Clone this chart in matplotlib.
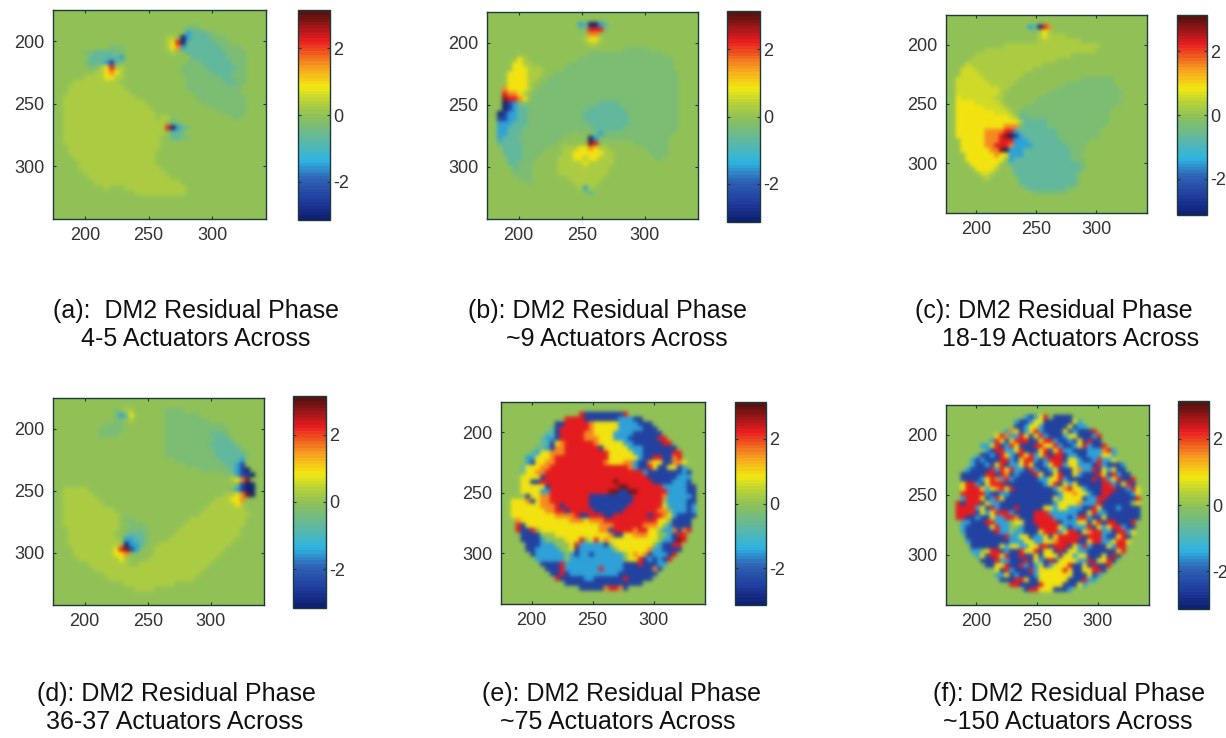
import numpy as np
import matplotlib
matplotlib.use("Agg")
import matplotlib.pyplot as plt
from matplotlib.colors import LinearSegmentedColormap

plt.rcParams["font.family"] = ["Liberation Sans", "DejaVu Sans"]

# =========================
# DATA: phase, one letter per 4x4 pixel cell
# =========================
LEVELS = {"n": -3.0, "b": -2.4, "c": -1.4, "t": -0.6, "p": -0.22, ".": 0.0, "g": 0.0,
          "q": 0.3, "u": 0.6, "y": 0.9, "o": 1.6, "r": 2.3, "d": 2.9}

PANEL_A = ["", "", "",
    "..........................ppp",
    "..........................ctttpp",
    "......................qq.ncttttppp",
    "......................qyrnttttttppp",
    "...........ppp........qyoctttttttpppp",
    "......ppttttpp.........q..ttttttttpppp",
    ".......ttttttc.............tttttttpppp",
    "......ptttcbtp............pppttttttppp",
    ".......ppqyrqq...........pppppttttttpp",
    "........qqyoyq...........ppppppttttppp",
    "......qqqqyyqq............pppppppttppp",
    "....qqqqqqqqq.............ppppppppttpp",
    "...qqqqqqqqqqq............ppppppppppp",
    "...qqqqqqqqqqqq............pppppppppp",
    "..qqqqqqqqqqqqqq............pppppppppp",
    "..qqqqqqqqqqqqqqqq...........ppppppppp",
    "..qqqqqqqqqqqqqqqqq............ppppppp",
    "..qqqqqqqqqqqqqqqqqq.............ppppp",
    "..qqqqqqqqqqqqqqqqqq.qqp...........pp",
    "..qqqqqqqqqqqqqqqqqqqq.pp",
    "..qqqqqqqqqqqqqqqqqqqqrnctp",
    "..qqqqqqqqqqqqqqqqqqqq.ttp",
    "..qqqqqqqqqqqqqqqqqqq..ttpp",
    "..qqqqqqqqqqqqqqqqqqq",
    "...qqqqqqqqqqqqqqqqqq",
    "...qqqqqqqqqqqqqqqqq",
    "....qqqqqqqqqqqqqqqq",
    ".....qqqqqqqqqqqqqqq",
    ".....qqqqqqqqqqqqqqqq",
    "......qqqqqqqqqqqqqqqq",
    ".......qqqqqqqqqqqqqqqq",
    "........qqqqqqqqqqqqqqqqq",
    "..........q...qqqqqqqqqqqq",
    "................qqqqqqqqqq",
]

PANEL_B = ["", "",
    "..................ctnnct",
    "..................pprrrp",
    "....................oo",
    "...................qyyq",
    "....................qq",
    "...........................ppppp",
    "....................ppppppppppppppp",
    "......yq..........ppppppppppppppppppp",
    ".....yyqq.......ppppppppppppppppppppp",
    ".....yyyqqq....pppppppppppppppppppppp",
    "....yyyyqqq..ppppppppppppppppppppppppp",
    "....yyyyqq..pppppppppppppppppppppppppp",
    "....yyyyq..ppppppppppppppppppppppppppp",
    "...oyyyyq.pppppppppppppppppppppppppppp",
    "...rooyq.ppppppppppppppppppppppppppppp",
    "...drroy.ppppppppppppppppppppppppppppp",
    "...nbcppppppppppppppppttttpppppppppppp",
    "...nbcttpppppppppppptttttttppppppppppp",
    "..nbccttppppppppppptttttttttpppppppppp",
    "..bbccttppppppppppptttttttttpppppppppp",
    "..ccctttppppppppppppttttttttpppppppppp",
    "..cctttppppppppppppppttttttppppppppppp",
    "..cctttpppppppppp.p.ppcpppppppppppppp",
    "..ctttppppppppp.....ncpppppppppppppp",
    "..tttttppppppp......dr.......ppppppp",
    "...ttttppppp...qqqyyoyqq.......ppppp",
    "...ttttpppp....qqyyyyyyqq.......pppp",
    "....tttppp....qqqyyqyyqqq........pp",
    "....ttppp.....qqqqqyqqqqq",
    ".....tppp.....qqqqqqqqqq",
    ".....pppp.....qqqqqqqqqq",
    "......ppp.......qqqqqqq",
    "........p........qqqqq",
    "..................qcq",
    "....................t",
]

PANEL_C = ["", "",
    ".................ctnro",
    "..................pqyq",
    "...................qyqqqq",
    "...................qqqqqqqqq",
    "............qqqqqqqqqqqqqqqqqqqq",
    "........qqqqqqqqqqqqqqqqqqqqqqq",
    "......qqqqqqqqqqqqqqqqqqqq",
    ".....qqqqqqqqqqqqqqqqqq",
    "....uqqqqqqqqqqqqqqq",
    "...uuuqqqqqqqqqqqq",
    "...uuuuqqqqqqqqq",
    "..uuuuuuqqqqqqq.............ppppppp",
    "..uuuuuuuqqqqq...........pppppppppp",
    "..uuuuuuuuuqq..........ppppppppppppp",
    "..uuuuuuuuuq.........pppppppppppppppp",
    "..yuuuuuuuqq.......ppppppppppppppppp",
    "..yyyyuuuuuq......ppppppppppppppppppp",
    "..yyyyyyuuuuq...ppppppppppppppppppp",
    "..yyyyyyyyuuuq.ppppppppppppppppppp",
    "..yyyyyyyyyyyuqttppppppppppppppppp",
    "..yyyyyyyyyyyyyqtttttppppppppppppp",
    "..yyyyyyyyyyoooptttttpppppppppppp",
    "..yyyyyyoooorrcttttttttppppppppp",
    "..yyyyyyooordnbctttttttppppppppp",
    "...yyyyyooorrrccctttttttpppppp",
    "...yyyyyoorrrocccctttttttpppp",
    "...yyyyyyoodncccttttttttttppp",
    "....yyyyyyoyycccttttttttttpp",
    "....yyyyyyyy.cttttttttttttppp",
    ".....yyyyyy..tttttttttttttttp",
    "......yyyyq...ttttttttttttttp",
    ".......uuq....tttttttttttttp",
    "........q......ttttttttttttp",
    "...............ttttttttttttp",
    "................pttttttttpp",
    "..................ppppppp",
]

PANEL_D = ["", "",
    "............p.qq......pppp",
    "............pcty......ppppppp",
    "............pp.q......ppppppppp",
    "..........pppp........pppppppppppp",
    ".........ppppp........ppppppppppppp",
    ".........pppp.........ppppppppptttp",
    "......................pppppppppptttp",
    "......................ppppppppptttttp",
    "......................pppppppppptttttp",
    "......................ppppppppppttttttp",
    "........................pppppppppttttc",
    "..........................ppppppppttcb",
    ".............................pppppptcbn",
    "..................................p.cbbn",
    "...................................qyod",
    "....................................pbnn",
    "..qqqqq............................pcbnn",
    "..qqqqqq..........................qqyodn",
    "..qqqqqqq.......................qqqyyo",
    "..qqqqqqqq.....................qqqqqyq",
    "..qqqqqqqqqq..................qqqqqqqq",
    "..qqqqqqqqqqq................qqqqqqqqqq",
    "..qqqqqqqqqqq.pp...........qqqqqqqqqqq",
    "..qqqqqqqqqqq..ppp........qqqqqqqqqqqq",
    "...qqqqqqqqqq.ppppp......qqqqqqqqqqqq",
    "...qqqqqqqqq..ptttp.....qqqqqqqqqqqqq",
    "...qqqqqqqqqq.ccttp....qqqqqqqqqqqqq",
    "...qqqqqqqqqqqncctp..qqqqqqqqqqqqqq",
    "....qqqqqqqqyrdbcp..qqqqqqqqqqqqqq",
    "....qqqqqqqqyyo.p...qqqqqqqqqqqqq",
    ".....qqqqqqqqyq....qqqqqqqqqqqqq",
    ".......qqqqqqqq..qqqqqqqqqqqqqq",
    "........qqqqqqqqqqqqqqqqqqqqqq",
    "..........qqqqqqqqqqqqqqqqqqq",
    "...........qqqqqqqqqqqqqqqqq",
    "..............qqqqqqqqqq",
    "................qqqq",
]

# the two dense panels are written centred on the pupil
PANEL_E = ["", "",
    "rbbbbbbbbr", "rrrrbbbbbbbcccbb", "bbrrrrroyyyyyccccbbb", "tbrrrrrroyyyyyccccc" + "bbb",
    "ttbrrrrrooyyyyccccbbbbbb", "tccbrrrrroooyyycccbbbbbbrr", "gttbyorrrrrroyyyyyccbbbbbbrr",
    "gttcboorrrrrrrbyyyyycccbbbbbbb", "gtcyyooorrrrrrrrryyyyyccbbbbbbrr",
    "ccyyyorrrrrrrrrrryyyyyycbbrrbbor", "gcbyyoorrrrrrrrrroyyyoocbboyybbooy",
    "tyyyoorrrrrrrrrrrrrrrrocbbrybbyybc", "gtyyoorrrrrrrrrrrrrrrrrrrrcbbbbbbbcb",
    "gyyyybrrrrrrrrrrrrrrrrrrrrrbbbbbbccc", "gyybbrrrrrrrrrrrrrrrdrrrrrrrbbbbcccb",
    "ggyyyyybrrrrrrrrrrrrrrddrrrrrrrcccccbb", "ggyyyyccrrrrrrrrrrrrddbbddrrrrrrccccbb",
    "gggbyyoorrrrrrrrbbbbbbbbbrrrrrroccccc" + "b", "yyyobyoorrrrrrrrbbbbbbbbbrrrrrrgccccbb",
    "yyyyyyooorbrrrrrbbbbbbbbrrrrrrryccccbc", "yyyyyyyoorrbrrrrrbbbbbbrrrrrrroogcccbc",
    "yyyyyyyyyoooorbbrrrbbrrrrrrrbrroycbbbb", "oyyyyyyyyyyoooyooorrrrrrrrrrryygbbbb",
    "rbyyyyyyyyyyyyyyyooorrrrrroooygcbbbb", "rbbrgyyyyyyyyyyyyoobrrrrorryygccobor",
    "bbbbgggyyyyyyyyyyyobbyyoooyyggcbrr", "bbbbcggggyyyrgyryoyyyyyyyyyygccbdr",
    "bbbcccgggyrcccccbgyyyyyyyygcbbrr", "bbcccccggybccccccc" + "gyyyyyyoccbbbb",
    "bccccccgcbccbccccccgyoyobcccbr", "ccccccgcccccccccccgyyrbcbcbr", "bbbbrccccccccccccbbbrbbbc" + "c",
    "bbbrcccccccrccccbbbbbbob", "bbrbccccccccccbbbbbbbb", "rbbbbbccbbbbbbrbbbbb",
    "bbbbbbbbbbbbbbbb", "bbbbborrob",
]

PANEL_F = ["", "",
    "cbcyrgbbbb", "gcbbcyybbbbbbycg", "gggbbcyycbbbbbybccgg", "ggcoybcyrcbbbbybcbbbrg",
    "gyroccrybyrcbbbcyybbbcrg", "gcrybyrrrbbyrrcbbcbybrbbgg", "ccyrbcrybbbrryyrcbbcyrcbbrgg",
    "ggcbrrccyrbbbyrbyrccbbbcccorcg", "gtbbcbrycbryrcyrbrrbccbbcccyycgg",
    "cbcbbbrrcbyrrcbcrrrbyycbbcrccygg", "gcbbcbyrbccyrybbcyrrcyycccbrcbbbcg",
    "cbbbbrcryrccbrcbbcybbbyoccrbycybbg", "bbbbbrrbrobcbbbrybbyrbbycbbbrybrcbbg",
    "bbbbcyrocrcbbbbbccyyrcbbbbbrbrcyrbbr", "yrrcbyrrrbbbbbbbbcyrbycybbbbbrrcbyrb",
    "gyrrrycyoryrbbbbbbbbcyoryycbbbrrrbbcry", "grrrrrcbbccbbbbbbbbbbcyyoyycbbrrbbbbcy",
    "gcrrrybcrybbbbbbbbbbycyyyybccrrbbbbbbr", "rbrrrbyccbbbbbbbbbbbcyyyyocccrbbbbbbgy",
    "rrrrcybrcbbbrbbbbbyycyycccbbrybbbcbbbb", "rrrrbycyrrrcbbbbrrrccccccbbyrccbbbbbbb",
    "rrbbcbbyccrrobbbrrrrcccbcrrcbbybbbbbbb", "ccbbbrrcccgyybbrrrrrbcccyybyrbrrbbbr",
    "cbbbbbyrccggcbbbrrrrycbcccrbycyrrcbb", "cbbbbbbrccgccbbbyrrrcyrrbyorrccbrrcy",
    "bbbbbbbbrccyybccybyrrrrrbrrrcbbyrb", "cbbbbbbbbcccyyccyyorrrrbbyrrccyrry",
    "bbbbbbycyyccyyrrbrrrbycrcbbbycrr", "ccgyrrbcbbryyrbyybrbyyccbbbbbbyr",
    "cybrryrbbrbbybyyybyycyybbbybrb", "bbbrccbbbrbycbrbyyyyccrbyyrb",
    "bbyyrbbrcbcybcyyyrbbybrbbr", "gybrcbbbrcyyyyyrybbyyrrb", "ccybcbbbcyyyyyyybbbybc",
    "bbbrrybbyyyyyybbbrcc", "rrbbbbryyyybbbyc", "brryyybbbc",
]

PANELS = [PANEL_A, PANEL_B, PANEL_C, PANEL_D, PANEL_E, PANEL_F]
CENTRED = [False, False, False, False, True, True]

CAPTIONS_1 = ["(a):  DM2 Residual Phase", "(b): DM2 Residual Phase", "(c): DM2 Residual Phase",
              "(d): DM2 Residual Phase", "(e): DM2 Residual Phase", "(f): DM2 Residual Phase"]
CAPTIONS_2 = ["4-5 Actuators Across", "~9 Actuators Across", "18-19 Actuators Across",
              "36-37 Actuators Across", "~75 Actuators Across", "~150 Actuators Across"]
AXIS_TICKS = [200, 250, 300]
BAR_TICKS = [-2, 0, 2]
BAR_LABELS = ["-2", "0", "2"]

# =========================
# LAYOUT (pixels: left, right, top, bottom)
# =========================
W, H = 1226, 738
IMG_BOX = [(53, 266, 10, 219), (487, 698, 12, 219), (946, 1147, 15, 213),
           (53, 264, 398, 605), (501, 705, 402, 604), (946, 1149, 405, 605)]
BAR_BOX = [(298, 330, 10, 220), (727, 760, 11, 222), (1177, 1207, 15, 215),
           (293, 326, 396, 608), (735, 766, 402, 605), (1178, 1209, 401, 609)]
CAP_X1 = [196, 607, 1054, 176, 621, 1069]
CAP_X2 = [196, 617, 1071, 175, 618, 1068]
CAP_Y1 = [311, 311, 311, 694, 694, 694]
CAP_Y2 = [339, 339, 339, 722, 722, 722]

DARK = "#1c3a3c"
TXT = "#333333"

cmap = LinearSegmentedColormap.from_list("phase", [
    (0.00, "#0c1c6a"), (0.09, "#1f3a9c"), (0.20, "#2f62b4"), (0.29, "#2fb4e2"),
    (0.39, "#5fb8a2"), (0.50, "#8dc05a"), (0.57, "#b4d03c"), (0.645, "#f2e810"),
    (0.74, "#f8a020"), (0.87, "#e81c20"), (1.00, "#5a1210")], N=64)


def px_rect(box):
    left, right, top, bottom = box
    return [left / W, 1 - bottom / H, (right - left) / W, (bottom - top) / H]


def to_grid(rows, centred):
    size = 42
    grid = np.zeros((size, size))
    for r, row in enumerate(rows):
        row = row.center(size, ".") if centred else row.ljust(size, ".")
        grid[r] = [LEVELS[ch] for ch in row[:size]]
    return grid


fig = plt.figure(figsize=(W / 100, H / 100), dpi=100)

for i in range(6):
    ax = fig.add_axes(px_rect(IMG_BOX[i]))
    im = ax.imshow(to_grid(PANELS[i], CENTRED[i]), cmap=cmap, vmin=-np.pi, vmax=np.pi,
                   extent=[175, 343, 343, 175], interpolation="gaussian",
                   interpolation_stage="rgba", aspect="auto")
    ax.set_xlim(175, 342)
    ax.set_ylim(342, 175)
    ax.set_xticks(AXIS_TICKS)
    ax.set_yticks(AXIS_TICKS)
    ax.tick_params(direction="in", length=2, width=0.8, color=DARK, top=True, right=True,
                   labelsize=13, labelcolor=TXT, pad=6)
    for s in ax.spines.values():
        s.set_color(DARK)
        s.set_linewidth(1.0)

    cax = fig.add_axes(px_rect(BAR_BOX[i]))
    cb = fig.colorbar(im, cax=cax, ticks=BAR_TICKS)
    cax.set_yticklabels(BAR_LABELS)
    cb.solids.set_edgecolor("face")
    cax.tick_params(direction="in", length=2, width=0.8, color=DARK, left=True, right=True,
                    labelsize=13, labelcolor=TXT, pad=2)
    cb.outline.set_edgecolor(DARK)
    cb.outline.set_linewidth(1.0)

    fig.text(CAP_X1[i] / W, 1 - CAP_Y1[i] / H, CAPTIONS_1[i], ha="center", va="center",
             fontsize=18, color="#111111")
    fig.text(CAP_X2[i] / W, 1 - CAP_Y2[i] / H, CAPTIONS_2[i], ha="center", va="center",
             fontsize=18, color="#111111")

fig.savefig("out.png", dpi=100)
